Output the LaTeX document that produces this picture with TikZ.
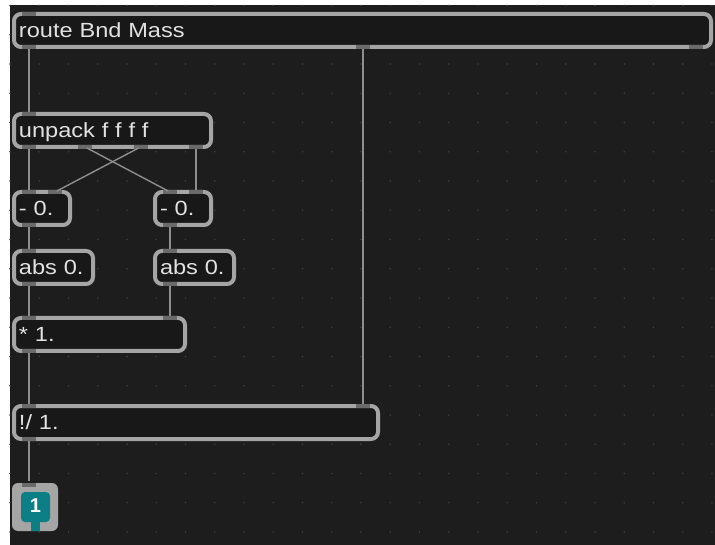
\documentclass[tikz,border=0pt]{standalone}
\usepackage{fontspec}
\newfontfamily\patchfont[FakeStretch=1.15]{Liberation Sans}
\newfontfamily\numfont{Liberation Sans}

\definecolor{canvas}{HTML}{1D1D1D}
\definecolor{boxfill}{HTML}{181818}
\definecolor{rim}{HTML}{A5A5A5}
\definecolor{portc}{HTML}{6A6A6A}
\definecolor{cordc}{HTML}{8E8E8E}
\definecolor{label}{HTML}{E2E2E2}
\definecolor{gridc}{HTML}{3E3E3E}
\definecolor{outteal}{HTML}{0B7E86}

\begin{document}
\begin{tikzpicture}[x=1pt,y=-1pt,
    obj/.style={draw=rim, line width=4pt, fill=boxfill, rounded corners=7pt, anchor=north west,
      outer sep=0pt, minimum height=33pt, inner xsep=5pt, inner ysep=0pt, text height=14pt,
      text depth=0pt, align=left, font=\patchfont\fontsize{20.5pt}{20.5pt}\selectfont, text=label},
    port/.style={draw=portc, line width=4pt},
    cord/.style={draw=cordc, line width=1.4pt, shorten <=2pt, shorten >=2pt}]
  \useasboundingbox (0,0) rectangle (715,545);
  \fill[white] (0,0) rectangle (715,545);
  \fill[canvas] (9.5,5) rectangle (715,545);
  % patcher grid
  \foreach \i in {0,...,24}
    \foreach \j in {0,...,18}
      \fill[gridc] (10+29.25*\i, 5.5+29.25*\j) circle (0.9);

  % objects
  \node[obj, text width=687pt] (route)  at (14,14)  {route Bnd Mass};
  \node[obj, text width=187pt] (unpack) at (14,114) {unpack f f f f};
  \node[obj, text width=46pt]  (subL)   at (14,192) {- 0.};
  \node[obj, text width=46pt]  (subR)   at (155,192) {- 0.};
  \node[obj, text width=69pt]  (absL)   at (14,251) {abs 0.};
  \node[obj, text width=69pt]  (absR)   at (155,251) {abs 0.};
  \node[obj, text width=161pt] (mul)    at (14,318) {* 1.};
  \node[obj, text width=354pt] (rdiv)   at (14,406) {!/ 1.};

  % outlet object
  \node[fill=rim, rounded corners=6pt, minimum width=46pt, minimum height=48pt, inner sep=0pt, outer sep=0pt] (out) at (35,507) {};
  \fill[outteal, rounded corners=4pt] (21,492) rectangle (50,522);
  \fill[outteal] (31,515) rectangle (40,531);
  \node[font=\numfont\bfseries\fontsize{20pt}{20pt}\selectfont, text=white] (outnum) at (35.5,506) {1};

  % inlets and outlets
  \draw[port] ([xshift=15pt]route.north west) ++(-7,0) -- ++(14,0);
  \draw[port] ([xshift=15pt]route.south west) ++(-7,0) -- ++(14,0);
  \draw[port] ([xshift=349pt]route.south west) ++(-7,0) -- ++(14,0);
  \draw[port] ([xshift=-15pt]route.south east) ++(-7,0) -- ++(14,0);
  \draw[port] ([xshift=15pt]unpack.north west) ++(-7,0) -- ++(14,0);
  \foreach \dx in {15,71,126.5}
    \draw[port] ([xshift=\dx pt]unpack.south west) ++(-7,0) -- ++(14,0);
  \draw[port] ([xshift=-15pt]unpack.south east) ++(-7,0) -- ++(14,0);
  \foreach \obj in {subL,subR,mul}{
    \draw[port] ([xshift=15pt]\obj.north west) ++(-7,0) -- ++(14,0);
    \draw[port] ([xshift=-15pt]\obj.north east) ++(-7,0) -- ++(14,0);
    \draw[port] ([xshift=15pt]\obj.south west) ++(-7,0) -- ++(14,0);
  }
  \foreach \obj in {absL,absR}{
    \draw[port] ([xshift=15pt]\obj.north west) ++(-7,0) -- ++(14,0);
    \draw[port] ([xshift=15pt]\obj.south west) ++(-7,0) -- ++(14,0);
  }
  \draw[port] ([xshift=15pt]rdiv.north west) ++(-7,0) -- ++(14,0);
  \draw[port] ([xshift=-15pt]rdiv.north east) ++(-7,0) -- ++(14,0);
  \draw[port] ([xshift=15pt]rdiv.south west) ++(-7,0) -- ++(14,0);
  \draw[port] ([xshift=-13pt,yshift=-2pt]out.north) -- ([xshift=1pt,yshift=-2pt]out.north);

  % patch cords
  \path[cord] ([xshift=15pt]route.south west) edge ([xshift=15pt]unpack.north west)
              ([xshift=349pt]route.south west) edge ([xshift=-15pt]rdiv.north east)
              ([xshift=15pt]unpack.south west) edge ([xshift=15pt]subL.north west)
              ([xshift=71pt]unpack.south west) edge ([xshift=15pt]subR.north west)
              ([xshift=126.5pt]unpack.south west) edge ([xshift=-15pt]subL.north east)
              ([xshift=-15pt]unpack.south east) edge ([xshift=-15pt]subR.north east)
              ([xshift=15pt]subL.south west) edge ([xshift=15pt]absL.north west)
              ([xshift=15pt]subR.south west) edge ([xshift=15pt]absR.north west)
              ([xshift=15pt]absL.south west) edge ([xshift=15pt]mul.north west)
              ([xshift=15pt]absR.south west) edge ([xshift=-15pt]mul.north east)
              ([xshift=15pt]mul.south west) edge ([xshift=15pt]rdiv.north west)
              ([xshift=15pt]rdiv.south west) edge ([xshift=-6pt]out.north);
\end{tikzpicture}
\end{document}
